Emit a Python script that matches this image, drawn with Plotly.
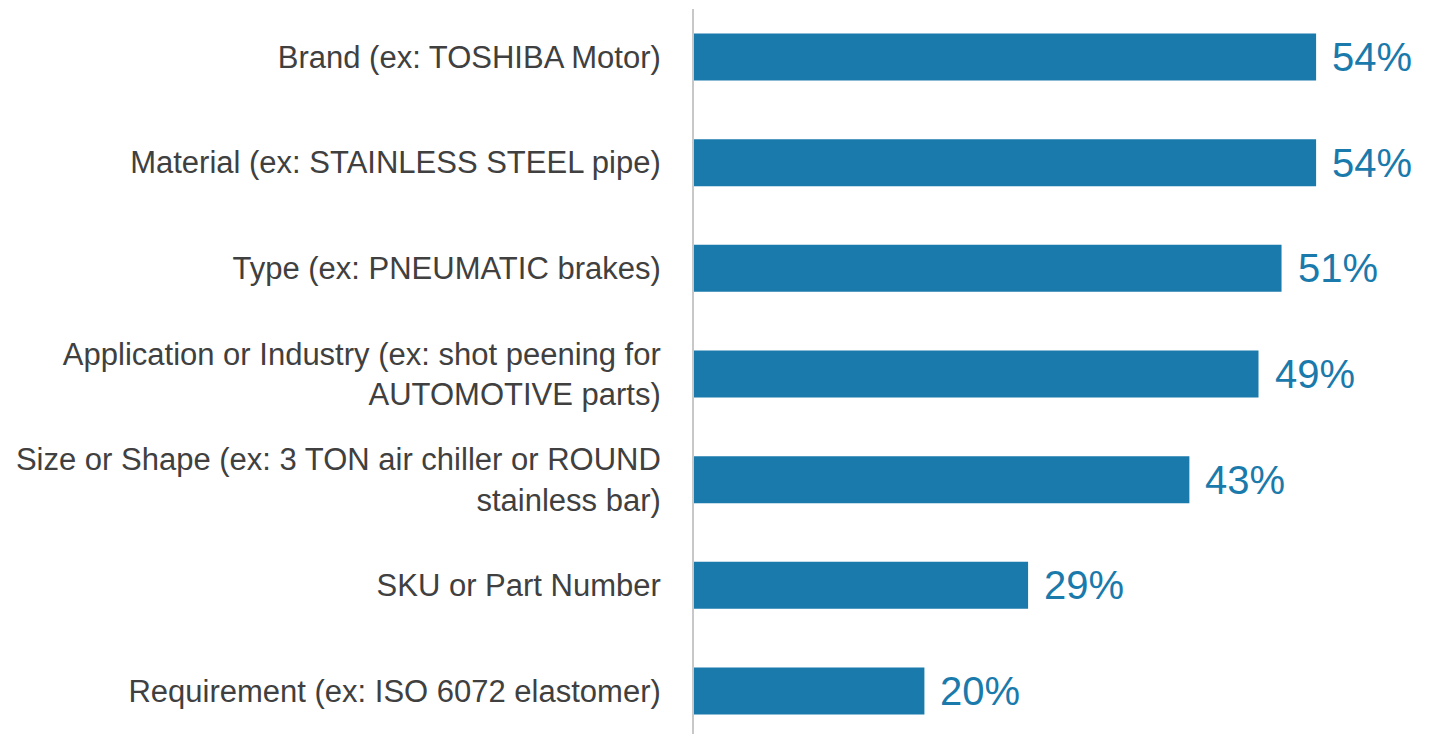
import plotly.graph_objects as go

categories = [
    "Brand (ex: TOSHIBA Motor)",
    "Material (ex: STAINLESS STEEL pipe)",
    "Type (ex: PNEUMATIC brakes)",
    "Application or Industry (ex: shot peening for<br>AUTOMOTIVE parts)",
    "Size or Shape (ex: 3 TON air chiller or ROUND<br>stainless bar)",
    "SKU or Part Number",
    "Requirement (ex: ISO 6072 elastomer)",
]
values = [54, 54, 51, 49, 43, 29, 20]
value_labels = ["54%", "54%", "51%", "49%", "43%", "29%", "20%"]

BAR_COLOR = "#1a7aab"
LABEL_COLOR = "#404040"
FONT = "Liberation Sans, Arial, sans-serif"

fig = go.Figure()
fig.add_trace(go.Bar(
    x=values,
    y=categories,
    orientation="h",
    marker=dict(color=BAR_COLOR, line=dict(width=0)),
    width=0.445,
    hoverinfo="skip",
))

for cat, v, lab in zip(categories, values, value_labels):
    fig.add_annotation(
        x=v, y=cat, text=lab, showarrow=False,
        xanchor="left", yanchor="middle", xshift=14,
        font=dict(family=FONT, size=40, color=BAR_COLOR),
    )

fig.update_layout(
    width=1429, height=734,
    margin=dict(l=694, r=0, t=9, b=0),
    paper_bgcolor="white", plot_bgcolor="white",
    showlegend=False,
    font=dict(family=FONT),
    xaxis=dict(range=[0, 63.8], visible=False, showgrid=False, zeroline=False),
    yaxis=dict(
        type="category",
        categoryorder="array", categoryarray=categories,
        range=[6.407, -0.454],
        showline=True, linecolor="#c8c8c8", linewidth=2,
        showgrid=False, zeroline=False, ticks="",
        ticklabelstandoff=25,
        tickfont=dict(family=FONT, size=31, color=LABEL_COLOR),
    ),
)

fig.write_html(
    "out.html",
    config={"displayModeBar": False},
    post_script="document.body.style.margin='0';document.body.style.overflow='hidden';",
)
